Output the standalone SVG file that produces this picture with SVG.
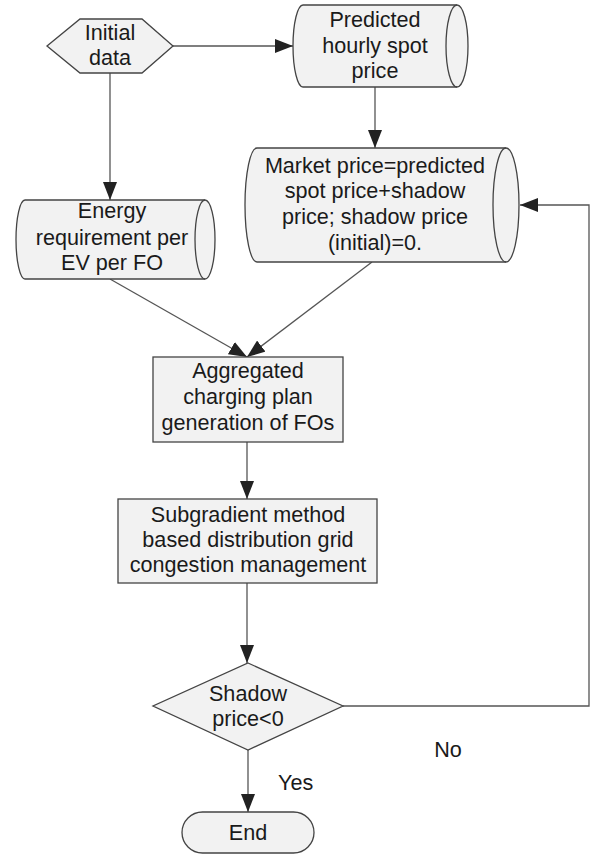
<svg xmlns="http://www.w3.org/2000/svg" width="605" height="855" viewBox="0 0 605 855">
<style>
.shape{fill:#f2f2f2;stroke:#444;stroke-width:1.3}
.inner{fill:none;stroke:#444;stroke-width:1.3}
.t{font-family:"Liberation Sans",Arial,sans-serif;font-size:21.6px;fill:#1a1a1a;text-anchor:middle}
.lbl{font-family:"Liberation Sans",Arial,sans-serif;font-size:21.6px;fill:#1a1a1a}
.c{fill:none;stroke:#555;stroke-width:1.3}
</style>
<defs>
<marker id="ah" markerUnits="userSpaceOnUse" markerWidth="18" markerHeight="14" refX="18" refY="7" orient="auto">
<path d="M0,0 L18,7 L0,14 Z" fill="#222"/>
</marker>
</defs>
<rect width="605" height="855" fill="#fff"/>
<g id="connectors">
<line class="c" x1="173" y1="46" x2="293" y2="46" marker-end="url(#ah)"/>
<line class="c" x1="375" y1="87" x2="375" y2="148" marker-end="url(#ah)"/>
<line class="c" x1="110" y1="73" x2="110" y2="200" marker-end="url(#ah)"/>
<line class="c" x1="110" y1="279" x2="247" y2="357" marker-end="url(#ah)"/>
<line class="c" x1="372" y1="262" x2="247" y2="357" marker-end="url(#ah)"/>
<line class="c" x1="247" y1="442" x2="247" y2="499" marker-end="url(#ah)"/>
<line class="c" x1="247" y1="583" x2="247" y2="663" marker-end="url(#ah)"/>
<line class="c" x1="248" y1="750" x2="248" y2="812" marker-end="url(#ah)"/>
<polyline class="c" points="343,706 589,706 589,205 520,205" marker-end="url(#ah)"/>
</g>
<g id="initial">
<polygon class="shape" points="47,46 80,19 142,19 173,46 142,73 80,73"/>
<text class="t" x="110" y="40">Initial</text>
<text class="t" x="110" y="65">data</text>
</g>
<g id="predicted">
<path class="shape" d="M303,5 L457,5 A11,41 0 0 1 457,87 L303,87 A10,41 0 0 1 303,5 Z"/>
<path class="inner" d="M457,5 A11,41 0 0 0 457,87"/>
<text class="t" x="375" y="27">Predicted</text>
<text class="t" x="375" y="53">hourly spot</text>
<text class="t" x="375" y="78">price</text>
</g>
<g id="energy">
<path class="shape" d="M25,200 L205,200 A10,39.5 0 0 1 205,279 L25,279 A9,39.5 0 0 1 25,200 Z"/>
<path class="inner" d="M205,200 A10,39.5 0 0 0 205,279"/>
<text class="t" x="112" y="218">Energy</text>
<text class="t" x="112" y="245">requirement per</text>
<text class="t" x="112" y="270">EV per FO</text>
</g>
<g id="market">
<path class="shape" d="M257,148 L506,148 A13,57 0 0 1 506,262 L257,262 A12,57 0 0 1 257,148 Z"/>
<path class="inner" d="M506,148 A13,57 0 0 0 506,262"/>
<text class="t" x="375" y="173">Market price=predicted</text>
<text class="t" x="375" y="198">spot price+shadow</text>
<text class="t" x="375" y="224">price; shadow price</text>
<text class="t" x="375" y="250">(initial)=0.</text>
</g>
<g id="aggregated">
<rect class="shape" x="153" y="357" width="190" height="85"/>
<text class="t" x="248" y="378">Aggregated</text>
<text class="t" x="248" y="404">charging plan</text>
<text class="t" x="248" y="430">generation of FOs</text>
</g>
<g id="subgradient">
<rect class="shape" x="118" y="499" width="259" height="84"/>
<text class="t" x="248" y="522">Subgradient method</text>
<text class="t" x="248" y="547">based distribution grid</text>
<text class="t" x="248" y="572">congestion management</text>
</g>
<g id="decision">
<polygon class="shape" points="248,663 343,706 248,750 153,706"/>
<text class="t" x="248" y="701">Shadow</text>
<text class="t" x="248" y="726">price&lt;0</text>
</g>
<g id="end">
<rect class="shape" x="182" y="812" width="132" height="41" rx="20.5"/>
<text class="t" x="248" y="840">End</text>
</g>
<g id="labels">
<text class="t" x="448" y="757">No</text>
<text class="lbl" x="278" y="790">Yes</text>
</g>
</svg>
